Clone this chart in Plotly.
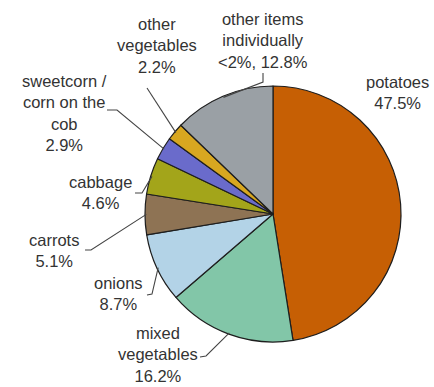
import math
import plotly.graph_objects as go

# Vegetable purchases by share
categories = [
    "potatoes",
    "mixed vegetables",
    "onions",
    "carrots",
    "cabbage",
    "sweetcorn / corn on the cob",
    "other vegetables",
    "other items individually <2%",
]
shares = [47.5, 16.2, 8.7, 5.1, 4.6, 2.9, 2.2, 12.8]
label_text = [
    "potatoes<br>47.5%",
    "mixed<br>vegetables<br>16.2%",
    "onions<br>8.7%",
    "carrots<br>5.1%",
    "cabbage<br>4.6%",
    "sweetcorn /<br>corn on the<br>cob<br>2.9%",
    "other<br>vegetables<br>2.2%",
    "other items<br>individually<br><2%, 12.8%",
]
colors = ["#C65F04", "#82C6A8", "#B3D3E7", "#8E7354", "#A3A51A",
          "#6A6BCB", "#D8A720", "#9AA0A5"]

W, H = 434, 387
CX, CY, R = 273, 214, 128  # pie centre and radius in pixels

# label block centres (pixels) and leader-line elbows
label_pos = [(397, 92), (158, 354), (118, 293), (54, 250), (100, 192),
             (64, 113), (157, 46), (263, 40)]
leader_start = [None, [(200, 357), (206, 356)], [(147, 295), (152, 294)],
                [(85, 250), (91, 250)], [(135, 193), (142, 193)],
                [(107, 110), (117, 110)], [(147, 88)], [(263, 73), (263, 82)]]


def px(x, y):
    return x / W, 1 - y / H


fig = go.Figure(go.Pie(
    labels=categories,
    values=shares,
    sort=False,
    direction="clockwise",
    rotation=0,
    marker=dict(colors=colors, line=dict(color="#1e1e1e", width=1.2)),
    textinfo="none",
    hoverinfo="label+percent",
    domain=dict(x=[(CX - R) / W, (CX + R) / W],
                y=[(H - CY - R) / H, (H - CY + R) / H]),
))

total = sum(shares)
cum = 0.0
shapes = []
annotations = []
for i, v in enumerate(shares):
    mid = (cum + v / 2) / total * 2 * math.pi
    cum += v
    ex = CX + R * 0.99 * math.sin(mid)
    ey = CY - R * 0.99 * math.cos(mid)
    lx, ly = label_pos[i]
    annotations.append(dict(
        x=lx / W, y=1 - ly / H, xref="paper", yref="paper",
        text=label_text[i], showarrow=False, align="center",
        xanchor="center", yanchor="middle",
        font=dict(family="Liberation Sans, Arial, sans-serif", size=16.5,
                  color="#333333"),
    ))
    if leader_start[i]:
        pts = leader_start[i] + [(ex, ey)]
        path = "M " + " L ".join(
            "{:.4f},{:.4f}".format(*px(x, y)) for x, y in pts)
        shapes.append(dict(type="path", path=path, xref="paper", yref="paper",
                           line=dict(color="#444444", width=1.1)))

fig.update_layout(
    width=W, height=H,
    margin=dict(l=0, r=0, t=0, b=0),
    paper_bgcolor="white",
    plot_bgcolor="white",
    showlegend=False,
    shapes=shapes,
    annotations=annotations,
)

fig.write_html("out.html")
